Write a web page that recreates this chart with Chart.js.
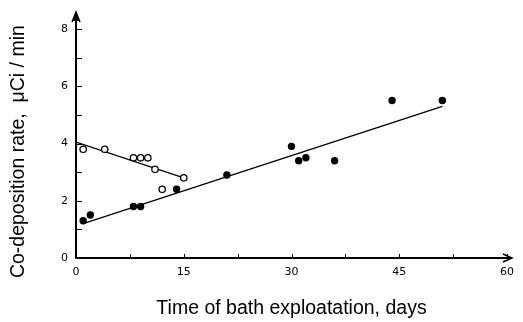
<!DOCTYPE html>
<html>
<head>
<meta charset="utf-8">
<script src="https://cdn.jsdelivr.net/npm/chart.js@4/dist/chart.umd.min.js"></script>
<style>
  body { margin: 0; background: #fff; }
</style>
</head>
<body>
<canvas id="grafico" width="523" height="322"></canvas>
<script>
// open circles
var openDays = [1, 4, 8, 9, 10, 11, 12, 15];
var openRate = [3.8, 3.8, 3.5, 3.5, 3.5, 3.1, 2.4, 2.8];
// filled circles
var filledDays = [1, 2, 8, 9, 14, 21, 30, 31, 32, 36, 44, 51];
var filledRate = [1.3, 1.5, 1.8, 1.8, 2.4, 2.9, 3.9, 3.4, 3.5, 3.4, 5.5, 5.5];
// fitted lines (end points)
var openFitDays = [0, 15];
var openFitRate = [4.05, 2.8];
var filledFitDays = [1, 51];
var filledFitRate = [1.2, 5.3];

var xTicks = [0, 15, 30, 45, 60];
var yTicks = [0, 2, 4, 6, 8];

function pts(xs, ys) {
    return xs.map(function(x, i){ return {x: x, y: ys[i]}; });
}

// axes with arrows and inward tick marks
var axesPlugin = {
    id: 'axes',
    afterDraw: function(chart) {
        var ctx = chart.ctx;
        var a = chart.chartArea;
        var xs = chart.scales.x, ys = chart.scales.y;
        var x0 = xs.getPixelForValue(0), y0 = ys.getPixelForValue(0);
        var topTip = a.top - 17, rightTip = a.right + 5;
        ctx.save();
        ctx.strokeStyle = '#000';
        ctx.lineWidth = 2;
        ctx.beginPath();
        ctx.moveTo(x0, y0); ctx.lineTo(x0, topTip);
        ctx.moveTo(x0 - 1, y0); ctx.lineTo(rightTip, y0);
        ctx.stroke();
        // arrow heads
        ctx.lineWidth = 1.5;
        ctx.beginPath();
        ctx.moveTo(x0 - 4, topTip + 10); ctx.lineTo(x0, topTip); ctx.lineTo(x0 + 4, topTip + 10);
        ctx.moveTo(rightTip - 9, y0 - 4); ctx.lineTo(rightTip, y0); ctx.lineTo(rightTip - 9, y0 + 4);
        ctx.stroke();
        ctx.fillStyle = '#000';
        ctx.beginPath();
        ctx.moveTo(x0 - 3, topTip + 9); ctx.lineTo(x0, topTip); ctx.lineTo(x0 + 3, topTip + 9);
        ctx.fill();
        // ticks
        ctx.lineWidth = 1;
        ctx.beginPath();
        for (var v = 1; v <= 8; v++) {
            var py = Math.round(ys.getPixelForValue(v)) + 0.5;
            ctx.moveTo(x0, py); ctx.lineTo(x0 + 6, py);
        }
        for (var d = 7.5; d <= 60; d += 7.5) {
            var px = Math.round(xs.getPixelForValue(d)) + 0.5;
            ctx.moveTo(px, y0); ctx.lineTo(px, y0 - 4);
        }
        ctx.stroke();
        ctx.restore();
    }
};

var tickFont = {family: 'DejaVu Sans', size: 11};
var titleFont = {family: 'Liberation Sans', size: 19.5};

var grafico_ctx = document.getElementById('grafico').getContext('2d');
var grafico_config = {
    type: 'scatter',
    data: {
        datasets: [{
            data: pts(openDays, openRate),
            pointRadius: 3.2,
            pointBackgroundColor: '#fff',
            pointBorderColor: '#000',
            pointBorderWidth: 1.3
        }, {
            data: pts(filledDays, filledRate),
            pointRadius: 3.7,
            pointBackgroundColor: '#000',
            pointBorderColor: '#000',
            pointBorderWidth: 0
        }, {
            data: pts(openFitDays, openFitRate),
            showLine: true,
            pointRadius: 0,
            borderColor: '#000',
            borderWidth: 1.3
        }, {
            data: pts(filledFitDays, filledFitRate),
            showLine: true,
            pointRadius: 0,
            borderColor: '#000',
            borderWidth: 1.3
        }]
    },
    options: {
        responsive: false,
        animation: false,
        devicePixelRatio: 1,
        layout: {
            padding: {left: 0, top: 29, right: 16, bottom: 1}
        },
        plugins: {
            legend: {display: false},
            tooltip: {enabled: false}
        },
        scales: {
            x: {
                type: 'linear',
                min: 0, max: 60,
                afterBuildTicks: function(s){ s.ticks = xTicks.map(function(v){ return {value: v}; }); },
                afterFit: function(s){ s.height = 322 - 258 - 1; },
                grid: {display: false, drawTicks: false},
                border: {display: false},
                ticks: {color: '#000', font: tickFont, padding: 8, maxRotation: 0},
                title: {display: true, text: 'Time of bath exploatation, days', color: '#000', font: titleFont, padding: {top: 0, bottom: 1}}
            },
            y: {
                type: 'linear',
                min: 0, max: 8,
                afterBuildTicks: function(s){ s.ticks = yTicks.map(function(v){ return {value: v}; }); },
                afterFit: function(s){ s.width = 76; },
                grid: {display: false, drawTicks: false},
                border: {display: false},
                ticks: {color: '#000', font: tickFont, padding: 8},
                // trailing spaces nudge the rotated title down a little
                title: {display: true, text: 'Co-deposition rate,  μCi / min\u00a0\u00a0\u00a0', color: '#000', font: titleFont, padding: {top: 7, bottom: 0}}
            }
        }
    },
    plugins: [axesPlugin]
};
var grafico = new Chart(grafico_ctx, grafico_config);
</script>
</body>
</html>
